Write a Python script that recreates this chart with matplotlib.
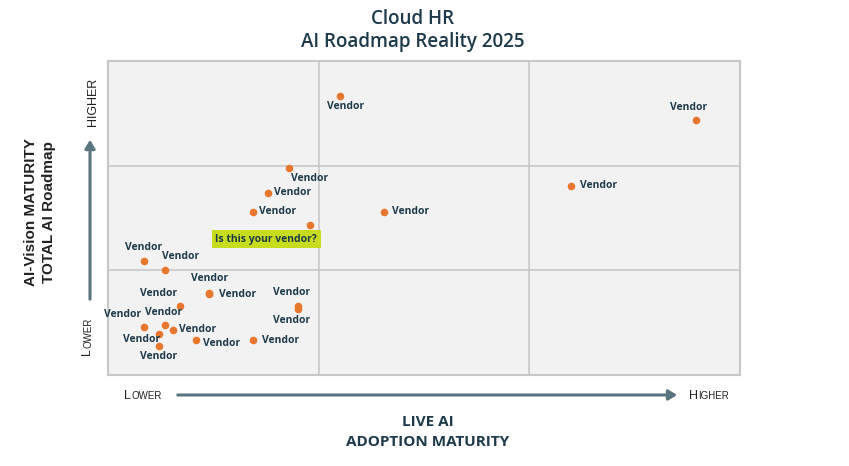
import matplotlib
matplotlib.use("Agg")
from matplotlib import pyplot as plt

# vendor positions on a 0..3 x 0..3 grid
xs = [1.10, 2.79, 0.86, 0.76, 0.69, 2.20, 1.31, 0.96, 0.17, 0.27,
      0.48, 0.48, 0.34, 0.90, 0.90, 0.17, 0.27, 0.31, 0.24, 0.24, 0.42, 0.69]
ys = [2.67, 2.44, 1.98, 1.74, 1.56, 1.81, 1.56, 1.43, 1.09, 1.00,
      0.78, 0.77, 0.66, 0.66, 0.63, 0.46, 0.48, 0.43, 0.39, 0.28, 0.33, 0.33]
labels = ["Vendor"] * 7 + ["Is this your vendor?"] + ["Vendor"] * 14
# label offsets in points (dx, dy, ha, va)
offsets = [(-9, -4, "left", "top"), (-5, 5, "center", "bottom"),
           (1, -4, "left", "top"), (4, 0, "left", "center"),
           (4, 0, "left", "center"), (6, 0, "left", "center"),
           (6, 0, "left", "center"), (5, -6, "right", "top"),
           (0, 6, "center", "bottom"), (-2, 6, "left", "bottom"),
           (0, 7, "center", "bottom"), (7, 0, "left", "center"),
           (-2, 5, "right", "bottom"), (-4, 6, "center", "bottom"),
           (-4, -4, "center", "top"), (-2, 5, "right", "bottom"),
           (-1, 5, "center", "bottom"), (4, 0, "left", "center"),
           (1, -4, "right", "center"), (0, -4, "center", "top"),
           (5, -2, "left", "center"), (6, 0, "left", "center")]

navy = "#1c3a4a"
grid_c = "#c8c8c8"
plt.rcParams["font.family"] = ["Open Sans", "DejaVu Sans"]

fig = plt.figure(figsize=(8.49, 4.66), dpi=100)
ax = fig.add_axes([108 / 849, 1 - 375 / 466, 632 / 849, 314 / 466])
ax.set_facecolor("#f2f2f2")
ax.set_xlim(0, 3)
ax.set_ylim(0, 3)
ax.set_xticks([])
ax.set_yticks([])
for s in ax.spines.values():
    s.set_color(grid_c)
    s.set_linewidth(1.5)
for v in [1, 2]:
    ax.axvline(v, color=grid_c, lw=1.2)
    ax.axhline(v, color=grid_c, lw=1.2)

ax.scatter(xs, ys, s=20, color="#e8772e", zorder=3)

for x, y, lab, (dx, dy, ha, va) in zip(xs, ys, labels, offsets):
    kw = {}
    if lab != "Vendor":
        kw["bbox"] = dict(boxstyle="square,pad=0.35", fc="#c8dc1e", ec="none")
    ax.annotate(lab, xy=(x, y), xytext=(dx, dy), textcoords="offset points",
                ha=ha, va=va, fontsize=7.5, fontweight="bold", color=navy, **kw)

# title
fig.text(413 / 849, 1 - 19 / 466, "Cloud HR", ha="center", va="center",
         fontsize=13.5, color=navy, fontweight="semibold")
fig.text(413 / 849, 1 - 42 / 466, "AI Roadmap Reality 2025", ha="center",
         va="center", fontsize=13.5, color=navy, fontweight="semibold")

# x axis label
fig.text(428 / 849, 1 - 422 / 466, "LIVE AI", ha="center", va="center",
         fontsize=11, color=navy, fontweight="bold")
fig.text(428 / 849, 1 - 442 / 466, "ADOPTION MATURITY", ha="center",
         va="center", fontsize=11, color=navy, fontweight="bold")

# y axis label
fig.text(40 / 849, 1 - 212 / 466, "AI-Vision MATURITY\nTOTAL AI Roadmap",
         rotation=90, ha="center", va="center", fontsize=11, color="#222222",
         fontweight="bold", family="Liberation Sans", linespacing=1.3)

arrow_c = "#5a7580"
fig.patches.append(matplotlib.patches.FancyArrowPatch(
    (175 / 849, 1 - 395 / 466), (680 / 849, 1 - 395 / 466),
    transform=fig.transFigure, arrowstyle="-|>,head_length=5,head_width=3",
    color=arrow_c, lw=2.2))
fig.patches.append(matplotlib.patches.FancyArrowPatch(
    (90 / 849, 1 - 302 / 466), (90 / 849, 1 - 137 / 466),
    transform=fig.transFigure, arrowstyle="-|>,head_length=5,head_width=3",
    color=arrow_c, lw=2.2))

small = dict(color="#222222", family="Liberation Sans")
# bottom small-caps words
fig.text(131 / 849, 1 - 399 / 466, "L", ha="right", va="baseline", fontsize=9, **small)
fig.text(131 / 849, 1 - 399 / 466, "OWER", ha="left", va="baseline", fontsize=7, **small)
fig.text(698 / 849, 1 - 399 / 466, "H", ha="right", va="baseline", fontsize=9, **small)
fig.text(698 / 849, 1 - 399 / 466, "IGHER", ha="left", va="baseline", fontsize=7, **small)
# left small-caps words
fig.text(99 / 849, 1 - 126 / 466, "HIGHER", rotation=90, ha="right",
         va="bottom", fontsize=9, **small)
fig.text(93 / 849, 1 - 348 / 466, "L", rotation=90, ha="right", va="top",
         fontsize=9, **small)
fig.text(93 / 849, 1 - 348 / 466, "OWER", rotation=90, ha="right",
         va="bottom", fontsize=7, **small)

fig.savefig("out.png", dpi=100)
